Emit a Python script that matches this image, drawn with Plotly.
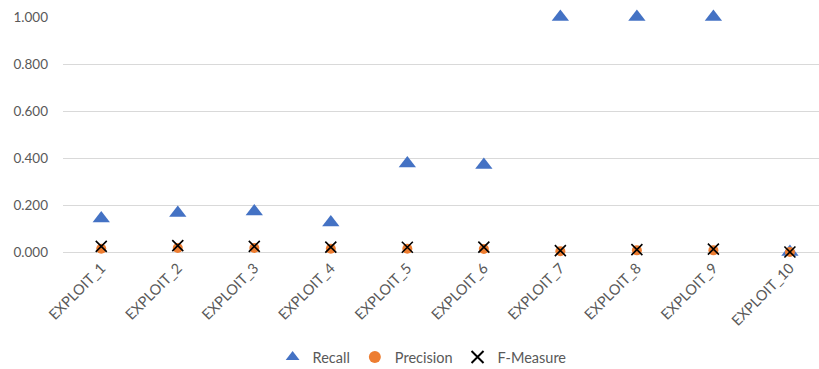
import plotly.graph_objects as go

# Per-exploit detection scores
exploits = ["EXPLOIT_1", "EXPLOIT_2", "EXPLOIT_3", "EXPLOIT_4", "EXPLOIT_5",
            "EXPLOIT_6", "EXPLOIT_7", "EXPLOIT_8", "EXPLOIT_9", "EXPLOIT_10"]
recall = [0.143, 0.166, 0.172, 0.126, 0.377, 0.370, 1.000, 1.000, 1.000, 0.000]
precision = [0.014, 0.017, 0.017, 0.014, 0.014, 0.013, 0.003, 0.007, 0.007, 0.000]
f_measure = [0.024, 0.027, 0.024, 0.021, 0.020, 0.021, 0.006, 0.010, 0.012, 0.000]

y_ticks = [0, 0.2, 0.4, 0.6, 0.8, 1.0]
y_tick_text = ["0.000", "0.200", "0.400", "0.600", "0.800", "1.000"]

FONT = "Lato, Calibri, 'Open Sans', sans-serif"
TEXT_GREY = "#595959"
GRID = "#D9D9D9"

fig = go.Figure()
fig.add_trace(go.Scatter(
    x=exploits, y=recall, mode="markers", name="Recall", cliponaxis=False,
    marker=dict(symbol="triangle-up", size=15, color="#4472C4"),
))
fig.add_trace(go.Scatter(
    x=exploits, y=precision, mode="markers", name="Precision", cliponaxis=False,
    marker=dict(symbol="circle", size=10, color="#ED7D31"),
))
fig.add_trace(go.Scatter(
    x=exploits, y=f_measure, mode="markers", name="F-Measure", cliponaxis=False,
    marker=dict(symbol="x-thin", size=11, color="black",
                line=dict(color="black", width=1.6)),
))

fig.update_layout(
    width=819, height=369,
    margin=dict(l=63, r=0, t=17, b=117, autoexpand=False),
    paper_bgcolor="white", plot_bgcolor="white",
    font=dict(family=FONT, size=13, color=TEXT_GREY),
    showlegend=True,
    legend=dict(orientation="h", x=0.475, xanchor="center", y=-0.447,
                yanchor="middle", font=dict(size=14.5, color=TEXT_GREY),
                itemsizing="constant", traceorder="normal",
                bgcolor="rgba(0,0,0,0)", itemwidth=30, tracegroupgap=0),
    xaxis=dict(
        type="category", range=[-0.5, 9.38], tickangle=-45,
        showgrid=False, showline=False, zeroline=False, ticks="",
        ticklabelstandoff=4, automargin=False,
        tickfont=dict(size=14.5, color=TEXT_GREY),
    ),
    yaxis=dict(
        range=[0, 1.0], tickvals=y_ticks, ticktext=y_tick_text,
        showgrid=True, gridcolor=GRID, gridwidth=1,
        zeroline=True, zerolinecolor=GRID, zerolinewidth=1,
        showline=False, ticks="", ticklabelstandoff=14, automargin=False,
        tickfont=dict(size=13.5, color=TEXT_GREY),
    ),
)

fig.write_html("out.html")
